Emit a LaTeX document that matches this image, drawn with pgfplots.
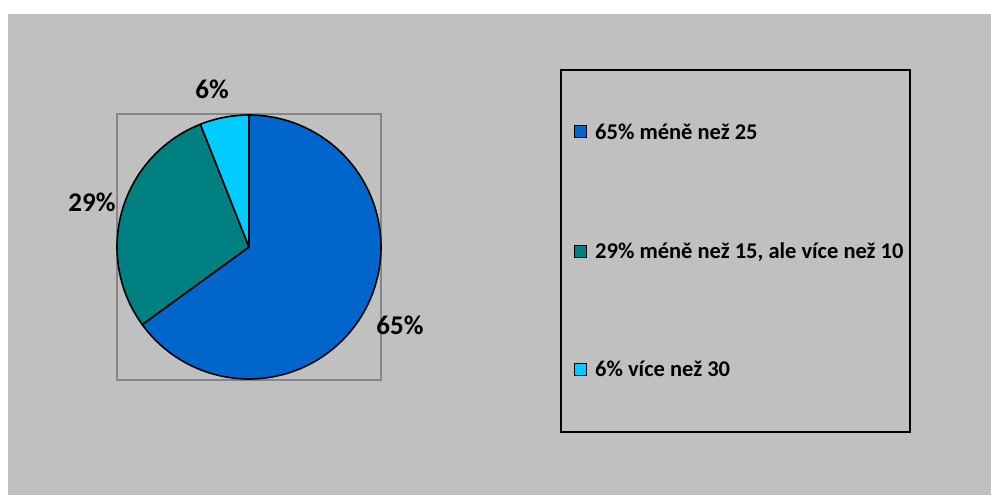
\documentclass[border=0pt]{standalone}
\usepackage{pgfplots}
\pgfplotsset{compat=1.18}
\usepackage{fontspec}
\setmainfont{Carlito}
\definecolor{bgc}{HTML}{C0C0C0}
\definecolor{sA}{HTML}{0066CC}
\definecolor{sB}{HTML}{008080}
\definecolor{sC}{HTML}{00CCFF}
\definecolor{frm}{HTML}{868686}
% slice values (percent)
\def\vA{65}
\def\vB{29}
\def\vC{6}
\begin{document}
\begin{tikzpicture}[x=1pt,y=1pt]
\useasboundingbox (0,0) rectangle (991,495);
\fill[white] (0,0) rectangle (991,495);
\fill[bgc] (8,0) rectangle (991,481);
\pgfmathsetmacro{\aA}{90}
\pgfmathsetmacro{\aB}{90-3.6*\vA}
\pgfmathsetmacro{\aC}{\aB-3.6*\vB}
\pgfmathsetmacro{\aD}{\aC-3.6*\vC}
\begin{axis}[
  at={(117pt,115pt)}, anchor=south west,
  width=264pt, height=266pt, scale only axis,
  xmin=-1, xmax=1, ymin=-1.00758, ymax=1.00758,
  xtick=\empty, ytick=\empty,
  axis line style={draw=frm, line width=1.4pt},
  clip=false,
]
\addplot[fill=sA, draw=black, line width=1.6pt, line join=round, domain=\aB:\aA, samples=120, smooth] ({cos(x)},{sin(x)}) -- (axis cs:0,0) -- cycle;
\addplot[fill=sB, draw=black, line width=1.6pt, line join=round, domain=\aC:\aB, samples=60, smooth] ({cos(x)},{sin(x)}) -- (axis cs:0,0) -- cycle;
\addplot[fill=sC, draw=black, line width=1.6pt, line join=round, domain=\aD:\aC, samples=20, smooth] ({cos(x)},{sin(x)}) -- (axis cs:0,0) -- cycle;
\end{axis}
\begin{scope}[every node/.style={font=\fontsize{27}{32}\selectfont\bfseries, inner sep=0pt}]
\node at (212,406) {\vC\%};
\node at (92,293) {\vB\%};
\node at (400,170) {\vA\%};
\end{scope}
% legend
\draw[black, line width=1.6pt] (561,63) rectangle (910,425);
\begin{scope}[every node/.style={font=\fontsize{22.5}{26}\selectfont\bfseries, inner sep=0pt, anchor=base west}]
\draw[fill=sA, line width=0.9pt] (574.5,358) rectangle (586,370);
\node at (595,355.7) {65\% méně než 25};
\draw[fill=sB, line width=0.9pt] (574.5,238) rectangle (586,250);
\node at (595,236) {29\% méně než 15, ale více než 10};
\draw[fill=sC, line width=0.9pt] (574.5,120) rectangle (586,132);
\node at (595,118.3) {6\% více než 30};
\end{scope}
\end{tikzpicture}
\end{document}
